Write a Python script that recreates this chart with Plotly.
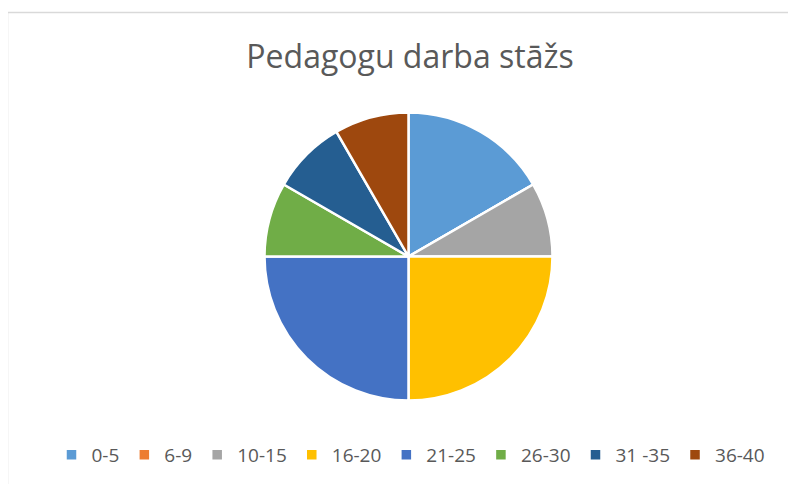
import plotly.graph_objects as go

categories = ["0-5", "6-9", "10-15", "16-20", "21-25", "26-30", "31 -35", "36-40"]
values = [2, 0, 1, 3, 3, 1, 1, 1]
colors = ["#5B9BD5", "#ED7D31", "#A5A5A5", "#FFC000", "#4472C4", "#70AD47", "#255E91", "#9E480E"]
title_text = "Pedagogu darba stāžs"

W, H = 796, 484
OFF = 8  # page body margin
cx, cy, r = 408.5 - OFF, 256.5 - OFF, 144


def px(x):
    return (x - OFF) / W


def py(y):
    return 1 - (y - OFF) / H


fig = go.Figure(go.Pie(
    labels=categories,
    values=values,
    sort=False,
    direction="clockwise",
    rotation=0,
    marker=dict(colors=colors, line=dict(color="white", width=2.5)),
    textinfo="none",
    hoverinfo="label+value+percent",
    domain=dict(x=[(cx - r) / W, (cx + r) / W], y=[1 - (cy + r) / H, 1 - (cy - r) / H]),
    showlegend=True,
))

fig.update_layout(
    width=W, height=H,
    margin=dict(l=0, r=0, t=0, b=0),
    paper_bgcolor="white",
    plot_bgcolor="white",
    font=dict(family="Open Sans, Liberation Sans, sans-serif", color="#595959"),
    title=dict(text=title_text, x=px(410), xanchor="center", y=py(57), yanchor="middle",
               font=dict(size=32, color="#595959", family="Open Sans, sans-serif")),
    legend=dict(orientation="h", x=px(411), xanchor="center", y=py(455), yanchor="middle",
                font=dict(size=19, color="#595959"), itemwidth=30, traceorder="normal"),
    shapes=[dict(type="rect", xref="paper", yref="paper",
                 x0=px(7.5), x1=1.2, y0=-0.2, y1=py(12.5),
                 line=dict(color="#D9D9D9", width=1.5), layer="below")],
)

fig.write_html("out.html")
